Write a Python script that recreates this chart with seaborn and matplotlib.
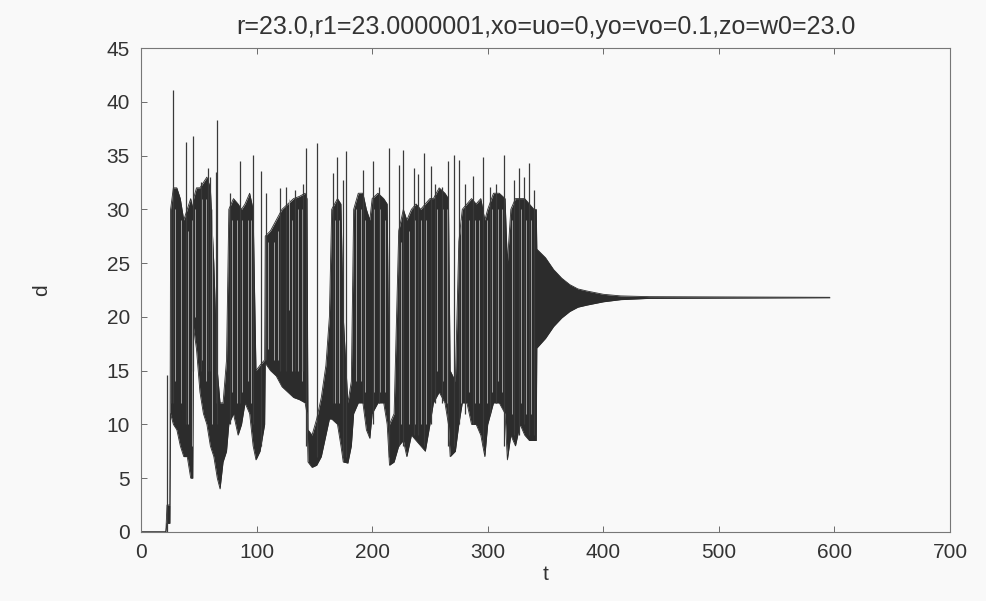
import numpy as np
import matplotlib
matplotlib.use("Agg")
import matplotlib.pyplot as plt
import seaborn as sns

# ---- data ----
# envelope of the dense oscillation: time, lower edge, upper edge
env_t = [0, 21.5, 22.5, 25, 25.6, 28, 31, 34, 37, 40, 43, 44.8, 45.5, 48, 51, 54, 57, 60, 63, 66,
         68.4, 71, 74, 76, 80, 84, 87, 90, 94, 97, 99.5, 103, 107, 107.5, 112, 117, 122, 127, 132,
         137, 142, 143.6, 144.5, 148, 152, 156, 160, 163, 165, 170, 173, 175, 179, 182, 184, 188,
         192, 195, 198, 200, 205, 210, 213, 215, 219, 223, 227, 230, 234, 238, 242, 246, 250, 253,
         258, 263, 266, 267.5, 272, 275, 278, 282, 286, 290, 294, 297.5, 300, 305, 310, 315, 317,
         320, 324, 328, 332, 336, 340, 342, 342.5, 350, 357, 364, 371, 378, 386, 400, 415, 440, 596]
env_lo = [0, 0, 0.8, 0.8, 11, 10, 9.5, 8, 7, 7, 5, 5, 19, 17, 13, 11, 10, 8, 7, 5,
          4, 6.5, 7.5, 10, 11, 9, 10, 12, 11, 8, 6.7, 7.5, 10, 15.7, 15, 14.5, 13.5, 13, 12.5,
          12.3, 12, 11, 6.5, 6, 6.2, 7, 9, 10.5, 10.5, 10, 8, 6.5, 6.4, 8, 11, 12,
          12, 9.5, 8.7, 11, 12, 12, 10, 6.2, 6.5, 8, 8.5, 7, 9, 8.5, 8, 7.5, 10, 12,
          13, 12, 10, 7, 7.5, 10, 12, 12, 10, 10, 9, 7, 10, 12, 12, 11, 6.7,
          9, 8, 10, 9, 8.5, 8.5, 8.5, 17.1, 18.0, 19.1, 19.9, 20.5, 20.9, 21.1, 21.4, 21.6, 21.72, 21.78]
env_hi = [0, 0, 2.5, 2.5, 30, 32, 32, 31, 29, 30, 31, 30, 31, 32, 32, 32.5, 33, 32, 25, 15,
          12, 12, 16, 30, 31, 30.5, 30, 30.5, 31.5, 30, 15, 15.5, 16, 27.5, 28, 29, 30, 30.5, 31,
          31.2, 31.5, 31, 9.5, 9, 10.5, 12.5, 15.5, 20, 30, 31, 30.5, 20, 12, 14, 30, 31.5,
          31.5, 30, 29, 31, 31.5, 31, 30.5, 10, 11, 28, 30, 29, 30, 30.5, 30, 30.5, 31, 31,
          32, 31.5, 31, 15, 14, 27, 30, 30.5, 31, 30.5, 31, 29, 30, 31.5, 31.5, 31, 25,
          30, 31, 31, 31, 30.5, 30, 30, 26.3, 25.5, 24.4, 23.6, 23.0, 22.6, 22.4, 22.1, 21.95, 21.88, 21.82]

# isolated excursions: time, top value, bottom value
spike_t = [22.2, 26.3, 28.0, 38.9, 45.3, 51.5, 58.3, 59.5, 64.5, 66.1, 77.0, 85.7, 97.3, 104.0,
           108.2, 120.4, 125.3, 133.3, 140.5, 142.6, 152.7, 166.0, 169.4, 175.2, 177.2, 192.5,
           200.6, 205.5, 214.2, 223.4, 227.1, 235.8, 240.1, 244.5, 250.8, 254.5, 260.3, 266.0,
           270.4, 275.3, 280.5, 287.2, 295.8, 301.6, 307.4, 313.7, 322.4, 326.7, 331.0, 335.4, 339.7]
spike_top = [14.6, 29.8, 41.1, 36.3, 36.8, 32.5, 33.8, 33.0, 33.5, 38.3, 31.5, 34.5, 35.1, 33.6,
             31.5, 32.0, 32.1, 31.8, 32.4, 35.7, 36.2, 33.4, 34.9, 32.7, 35.4, 33.7,
             34.5, 32.1, 35.7, 34.1, 35.5, 33.8, 33.3, 35.2, 34.0, 32.4, 32.1, 34.5,
             35.1, 34.6, 32.4, 33.1, 34.9, 32.1, 32.4, 35.1, 32.7, 33.8, 33.0, 34.3, 31.8]
spike_bot = [0, 12, 12, 10, 15, 15, 15, 15, 12, 10, 10, 12, 10, 8,
             16, 15, 15, 15, 15, 8, 7, 12, 12, 7, 7, 12,
             10, 12, 7, 8, 8, 9, 9, 8, 10, 12, 12, 8,
             8, 10, 11, 10, 8, 11, 12, 8, 9, 9, 10, 9, 9]

# light gaps inside the dark band (where the trace drops away): time, bottom, top
gap_t = [29.5, 35, 41, 44, 47, 52.5, 56, 61.5, 78.5, 83, 87.5, 92.5, 95.5, 110, 115, 118.5,
         128, 131, 136, 139, 167.5, 171, 186, 190, 194, 202, 207, 211, 225, 232, 237.5,
         242, 247, 256, 261.5, 265, 277, 283.5, 289, 292.5, 299.5, 304, 309, 312, 321,
         329, 333, 337.5]
gap_lo = [14, 12, 10, 8, 20, 16, 14, 10, 13, 12, 13, 14, 12, 17, 16, 16,
          20.6, 15, 15, 14, 12, 12, 14, 14, 13, 13, 13, 13, 10, 10, 10,
          10, 10, 15, 14, 12, 12, 13, 12, 12, 12, 13, 14, 13, 11,
          12, 11, 11]
gap_hi = [30, 29, 28, 29, 30, 31, 31, 30, 29, 29, 29, 29, 29, 27, 27, 28,
          31, 29, 30, 30, 29, 29, 30, 30, 29, 30, 30, 29, 27, 28, 29,
          29, 29, 30, 30, 30, 29, 29, 29, 29, 29, 30, 30, 30, 29,
          30, 29, 29]

title = "r=23.0,r1=23.0000001,xo=uo=0,yo=vo=0.1,zo=w0=23.0"
x_ticks = [0, 100, 200, 300, 400, 500, 600, 700]
y_ticks = [0, 5, 10, 15, 20, 25, 30, 35, 40, 45]

# ---- plotting ----
sns.set_theme(style="ticks")
plt.rcParams['font.family'] = ['Liberation Sans', 'DejaVu Sans']

bg = "#f9f9f9"
ink = "#2c2c2c"
fig = plt.figure(figsize=(9.86, 6.01), dpi=100, facecolor=bg)
ax = fig.add_axes([0.143, 0.115, 0.8205, 0.805], facecolor=bg)

ax.fill_between(env_t, env_lo, env_hi, color=ink, linewidth=0)
sns.lineplot(x=env_t, y=env_hi, ax=ax, color=ink, linewidth=0.6, sort=False)
sns.lineplot(x=env_t, y=env_lo, ax=ax, color=ink, linewidth=0.6, sort=False)
ax.vlines(gap_t, gap_lo, gap_hi, color="#b0b0b0", linewidth=0.6)
ax.vlines(spike_t, spike_bot, spike_top, color="#3a3a3a", linewidth=0.9)

ax.set_xlim(0, 700)
ax.set_ylim(0, 45)
ax.set_xticks(x_ticks)
ax.set_yticks(y_ticks)
ax.tick_params(direction="in", length=4, width=0.6, top=True, right=False,
               labelsize=15, colors="#555555", labelcolor="#333333", pad=8)
for s in ax.spines.values():
    s.set_color("#777777")
    s.set_linewidth(0.8)

ax.set_xlabel("t", fontsize=15, color="#333333", labelpad=2)
ax.set_ylabel("d", fontsize=15, color="#333333", labelpad=40)
ax.set_title(title, fontsize=18, color="#333333", pad=10)

fig.savefig("out.png", dpi=100, facecolor=bg)
